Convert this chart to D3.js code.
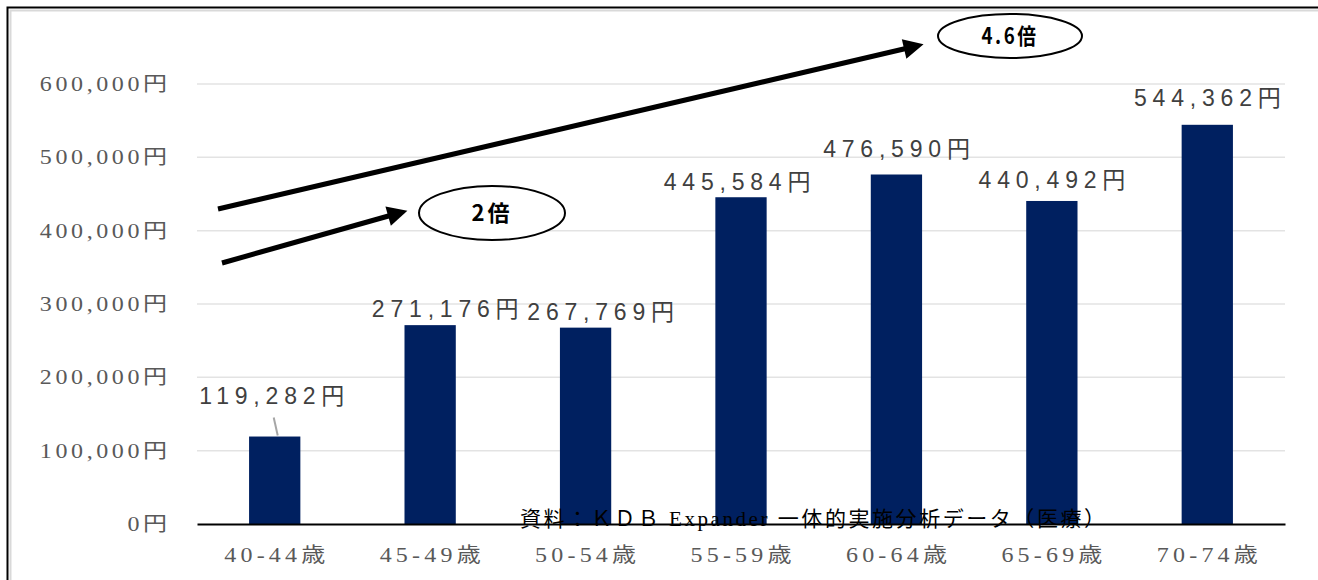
<!DOCTYPE html>
<html>
<head>
<meta charset="utf-8">
<script src="https://cdn.jsdelivr.net/npm/d3@7"></script>
<style>
  body { margin: 0; background: #fff; }
  svg { display: block; }
</style>
</head>
<body>
<svg id="chart" width="1318" height="580"></svg>
<script>
// age groups and per-person medical cost
var categories = ["40-44歳", "45-49歳", "50-54歳", "55-59歳", "60-64歳", "65-69歳", "70-74歳"];
var values = [119282, 271176, 267769, 445584, 476590, 440492, 544362];
var yTicks = [0, 100000, 200000, 300000, 400000, 500000, 600000];
var ratioLabels = ["4.6倍", "2倍"];
var sourceNote = "資料：ＫＤＢ Expander 一体的実施分析データ（医療）";

var svg = d3.select("#chart");
var serif = "'Liberation Serif','Noto Sans CJK JP',serif";
var sans = "'Liberation Sans','DejaVu Sans','Noto Sans CJK JP',sans-serif";

// frame (double line)
svg.append("path").attr("d", "M7.5,580 V7.5 H1318").attr("fill", "none").attr("stroke", "#000").attr("stroke-width", 2);
svg.append("path").attr("d", "M10.5,580 V10.5 H1318").attr("fill", "none").attr("stroke", "#d9d9d9").attr("stroke-width", 2);

var x = d3.scaleBand().domain(categories).range([197, 1285]).paddingInner(0.67).paddingOuter(0.335);
var y = d3.scaleLinear().domain([0, 600000]).range([524, 84]);

// gridlines
svg.append("g").selectAll("line").data(yTicks.filter(function(d){ return d > 0; }))
  .enter().append("line")
  .attr("x1", 197).attr("x2", 1285)
  .attr("y1", function(d){ return y(d); }).attr("y2", function(d){ return y(d); })
  .attr("stroke", "#e3e3e3").attr("stroke-width", 1.5);

// y axis labels (wide serif look: stretch + spacing)
var yAxis = d3.axisLeft(y).tickValues(yTicks).tickSize(0).tickPadding(0)
  .tickFormat(function(d){ return d3.format(",")(d) + "円"; });
var gy = svg.append("g").attr("transform", "translate(167,0)").call(yAxis);
gy.select(".domain").remove();
gy.selectAll("text").attr("fill", "#595959").style("font-family", serif)
  .style("font-size", "20px").style("letter-spacing", "3px")
  .attr("x", 3).attr("transform", "scale(1.2,1)");

// bars
svg.append("g").selectAll("rect").data(values).enter().append("rect")
  .attr("x", function(d, i){ return x(categories[i]); })
  .attr("width", x.bandwidth())
  .attr("y", function(d){ return y(d); })
  .attr("height", function(d){ return y(0) - y(d); })
  .attr("fill", "#002060");

// x axis
var xAxis = d3.axisBottom(x).tickSize(0).tickPadding(0);
var gx = svg.append("g").attr("transform", "translate(0," + y(0) + ")").call(xAxis);
gx.select(".domain").attr("stroke", "#000").attr("stroke-width", 2);
gx.selectAll("text").attr("fill", "#595959").style("font-family", serif)
  .style("font-size", "20px").style("letter-spacing", "3.5px")
  .attr("x", 1.75).attr("y", 38).attr("dy", 0).attr("transform", "scale(1.2,1)");

// data labels
var labelOffsets = [[-3, -33], [15, -8], [15, -8], [-4, -7], [0, -18], [0, -13], [0, -19]];
svg.append("g").selectAll("text").data(values).enter().append("text")
  .attr("x", function(d, i){ return x(categories[i]) + x.bandwidth() / 2 + labelOffsets[i][0] + 3; })
  .attr("y", function(d, i){ return y(d) + labelOffsets[i][1]; })
  .attr("text-anchor", "middle")
  .attr("fill", "#404040")
  .style("font-family", sans).style("font-size", "23px").style("letter-spacing", "5.8px")
  .text(function(d){ return d3.format(",")(d) + "円"; });

// leader line for the first label
svg.append("line")
  .attr("x1", x(categories[0]) + x.bandwidth() / 2 - 1).attr("y1", y(values[0]) - 19)
  .attr("x2", x(categories[0]) + x.bandwidth() / 2 + 3).attr("y2", y(values[0]) - 1)
  .attr("stroke", "#a6a6a6").attr("stroke-width", 2);

// arrows
var defs = svg.append("defs");
defs.append("marker").attr("id", "ah").attr("viewBox", "0 0 10 10")
  .attr("refX", 2).attr("refY", 5).attr("markerWidth", 4.5).attr("markerHeight", 4)
  .attr("orient", "auto").attr("markerUnits", "strokeWidth")
  .append("path").attr("d", "M0,0 L10,5 L0,10 z").attr("fill", "#000");

svg.append("line").attr("x1", 218).attr("y1", 209).attr("x2", 908).attr("y2", 48)
  .attr("stroke", "#000").attr("stroke-width", 5).attr("marker-end", "url(#ah)");
svg.append("line").attr("x1", 222).attr("y1", 263).attr("x2", 392).attr("y2", 215)
  .attr("stroke", "#000").attr("stroke-width", 5).attr("marker-end", "url(#ah)");

// ellipses with ratio text
var bubbles = [{cx: 1010, cy: 36, rx: 72, ry: 22, sx: 0.85}, {cx: 492, cy: 213, rx: 73, ry: 27, sx: 1}];
var gb = svg.append("g").selectAll("g").data(bubbles).enter().append("g");
gb.append("ellipse")
  .attr("cx", function(d){ return d.cx; }).attr("cy", function(d){ return d.cy; })
  .attr("rx", function(d){ return d.rx; }).attr("ry", function(d){ return d.ry; })
  .attr("fill", "#fff").attr("stroke", "#000").attr("stroke-width", 2);
gb.append("text")
  .attr("transform", function(d){ return "translate(" + d.cx + "," + (d.cy + 8) + ") scale(" + d.sx + ",1)"; })
  .attr("text-anchor", "middle")
  .style("font-family", "'Noto Sans CJK JP',sans-serif").style("font-weight", "bold")
  .style("font-size", "22px").style("letter-spacing", "3px")
  .text(function(d, i){ return ratioLabels[i]; });

// source note
svg.append("text").attr("x", 520).attr("y", 526)
  .attr("textLength", 585).attr("lengthAdjust", "spacing")
  .style("font-family", "'Liberation Serif','Noto Sans CJK JP',serif").style("font-size", "21px").attr("fill", "#000")
  .text(sourceNote);
</script>
</body>
</html>
